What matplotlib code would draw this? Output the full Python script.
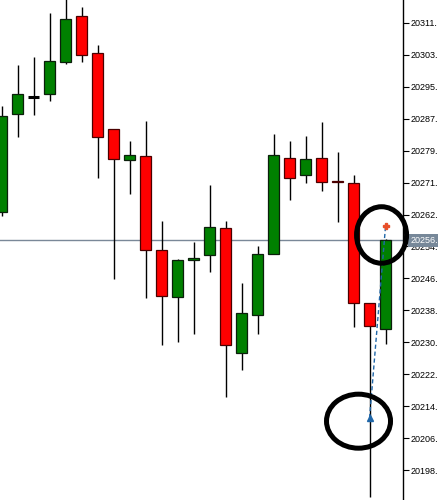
import matplotlib
matplotlib.use("Agg")
import matplotlib.pyplot as plt
from matplotlib.patches import Ellipse

plt.rcParams["font.family"] = ["Liberation Sans", "DejaVu Sans"]

# candle prices (oldest -> newest)
opens  = [20263.55, 20288.32, 20292.77, 20293.38, 20301.62, 20313.17, 20303.81, 20284.53,
          20276.70, 20277.71, 20253.95, 20242.27, 20251.42, 20252.69, 20259.59, 20227.92,
          20237.52, 20252.94, 20277.20, 20272.90, 20277.20, 20271.59, 20270.88, 20240.55,
          20234.06]
highs  = [20290.42, 20300.78, 20302.80, 20314.00, 20317.97, 20315.52, 20305.84, 20284.53,
          20281.57, 20286.63, 20261.35, 20251.67, 20256.05, 20270.45, 20261.35, 20245.68,
          20255.11, 20283.42, 20281.57, 20282.91, 20286.38, 20278.79, 20272.98, 20240.55,
          20256.73]
lows   = [20262.69, 20282.51, 20288.22, 20291.76, 20300.96, 20301.62, 20272.30, 20246.57,
          20268.25, 20241.97, 20230.14, 20230.85, 20232.87, 20248.46, 20216.95, 20223.82,
          20232.72, 20252.94, 20266.74, 20271.03, 20269.01, 20261.18, 20234.49, 20191.67,
          20230.19]
closes = [20287.97, 20293.38, 20292.77, 20301.79, 20312.41, 20303.23, 20282.51, 20277.15,
          20278.04, 20253.90, 20242.52, 20251.42, 20251.93, 20259.84, 20229.94, 20238.05,
          20252.94, 20277.96, 20272.15, 20276.95, 20271.14, 20271.21, 20240.55, 20234.82,
          20256.48]

price_ticks = [20311.40, 20303.33, 20295.26, 20287.19, 20279.12, 20271.05, 20262.98, 20254.91,
               20246.84, 20238.77, 20230.70, 20222.63, 20214.56, 20206.49, 20198.42]
current_price = 20256.48

# trade: buy on candle 23, close on candle 24
trade_bars = [23, 24]
trade_prices = [20211.56, 20260.09]

fig = plt.figure(figsize=(4.39, 5.0), dpi=100)
ax = fig.add_axes([0, 0, 403 / 439, 1])
ax.set_xlim(-0.094, 25.09)
ax.set_ylim(20190.84, 20317.21)

for i, (o, h, l, c) in enumerate(zip(opens, highs, lows, closes)):
    ax.vlines(i, l, h, color="black", lw=1, zorder=2)
    if o == c:
        ax.hlines(o, i - 0.33, i + 0.33, color="black", lw=2.2, zorder=3)
    elif c > o:
        ax.bar(i, c - o, bottom=o, width=0.64, color="#008000",
               edgecolor="#0b1f0b", lw=0.9, zorder=3)
    else:
        ax.bar(i, o - c, bottom=c, width=0.64, color="#ff0000",
               edgecolor="#4a0000", lw=0.9, zorder=3)

# current price line + label (terminal shows it cut after the dot)
ax.axhline(current_price, color="#7a8898", lw=1, zorder=1)
ax.text(1.0 + 7.5 / 403, current_price, f"{int(current_price)}.",
        transform=ax.get_yaxis_transform(), ha="left", va="center",
        color="white", fontsize=6.5,
        bbox=dict(boxstyle="square,pad=0.25", fc="#778899", ec="none"),
        clip_on=False, zorder=6)

# trade line and arrows
ax.plot(trade_bars, trade_prices, ls=(0, (3, 2)), color="#1f66a8", lw=1, zorder=4)
ax.plot(trade_bars[0], trade_prices[0], marker="^", color="#1f66a8", ms=5, zorder=5)
ax.plot(trade_bars[1], trade_prices[1], marker="P", color="#e8502a", ms=5, zorder=5)

# hand drawn circles
ax.add_patch(Ellipse((23.75, 20257.82), 3.125, 14.28, fill=False, ec="black",
                     lw=3.6, clip_on=False, zorder=7))
ax.add_patch(Ellipse((22.31, 20210.76), 4.0, 13.65, fill=False, ec="black",
                     lw=3.6, clip_on=False, zorder=7))

for s in ["left", "top", "bottom"]:
    ax.spines[s].set_visible(False)
ax.spines["right"].set_linewidth(1)
ax.set_xticks([])
ax.yaxis.tick_right()
ax.set_yticks(price_ticks)
ax.set_yticklabels([f"{int(t)}." for t in price_ticks])
ax.tick_params(axis="y", direction="out", length=4.3, width=0.8, pad=1.5, labelsize=6.5)

fig.savefig("out.png", dpi=100)
